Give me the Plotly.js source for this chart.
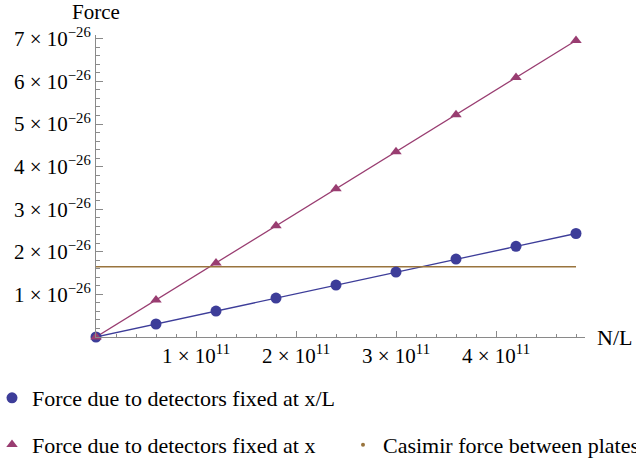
<!DOCTYPE html>
<html>
<head>
<meta charset="utf-8">
<script src="https://cdn.plot.ly/plotly-3.0.1.min.js"></script>
<style>html,body{margin:0;padding:0;background:#fff;}#chart{width:636px;height:461px;}</style>
</head>
<body>
<div id="chart"></div>
<script>
// ---- data ----
const nOverL = [0, 0.6e11, 1.2e11, 1.8e11, 2.4e11, 3.0e11, 3.6e11, 4.2e11, 4.8e11];
const forceXoverL = [0, 0.305e-26, 0.61e-26, 0.915e-26, 1.22e-26, 1.525e-26, 1.83e-26, 2.13e-26, 2.43e-26];
const forceX = [0, 0.87e-26, 1.74e-26, 2.61e-26, 3.48e-26, 4.35e-26, 5.22e-26, 6.09e-26, 6.96e-26];
const casimirN = [0, 4.8e11];
const casimirF = [1.65e-26, 1.65e-26];

const xTickVals = [1e11, 2e11, 3e11, 4e11];
const xTickText = ['1 × 10<sup>11</sup>', '2 × 10<sup>11</sup>', '3 × 10<sup>11</sup>', '4 × 10<sup>11</sup>'];
const yTickVals = [1e-26, 2e-26, 3e-26, 4e-26, 5e-26, 6e-26, 7e-26];
const yTickText = ['1', '2', '3', '4', '5', '6', '7'].map(d => d + ' × 10<sup>\u221226</sup>');

const names = ['Force due to detectors fixed at x/L', 'Force due to detectors fixed at x', 'Casimir force between plates'];
const colors = ['#3d3d99', '#993d71', '#99743d'];

const FONT = 'Liberation Serif, Times New Roman, serif';
const axisGray = '#8a8a8a';

const traces = [
  // connecting lines
  {x: nOverL, y: forceXoverL, mode: 'lines', showlegend: false, cliponaxis: false,
   line: {color: colors[0], width: 1.3}},
  {x: nOverL, y: forceX, mode: 'lines', showlegend: false, cliponaxis: false,
   line: {color: colors[1], width: 1.3}},
  {x: casimirN, y: casimirF, name: names[2], mode: 'lines', showlegend: false, cliponaxis: false,
   line: {color: colors[2], width: 1.5}},
  // markers (shown in legend)
  {x: nOverL, y: forceXoverL, name: names[0], mode: 'markers', cliponaxis: false,
   marker: {color: colors[0], size: 11, symbol: 'circle'}, legend: 'legend', legendgroup: 'a'},
  {x: nOverL, y: forceX, name: names[1], mode: 'markers', cliponaxis: false,
   marker: {color: colors[1], size: 10, symbol: 'triangle-up'}, legend: 'legend', legendgroup: 'b'},
  // legend proxy for the Casimir line (Mathematica shows a dot)
  {x: [null], y: [null], name: names[2], mode: 'markers',
   marker: {color: colors[2], size: 4}, legend: 'legend2'}
];

const W = 636, H = 461, ML = 96, MR = 51, MT = 35, MB = 124;
const PW = W - ML - MR, PH = H - MT - MB;
const px2x = p => (p - ML) / PW;
const py2y = p => (H - MB - p) / PH;

const layout = {
  width: W, height: H,
  margin: {l: ML, r: MR, t: MT, b: MB, autoexpand: false},
  paper_bgcolor: '#fff', plot_bgcolor: '#fff',
  font: {family: FONT, size: 21, color: '#000'},
  xaxis: {
    range: [0, 4.89e11], showgrid: false, zeroline: false,
    showline: true, linecolor: axisGray, linewidth: 1,
    tickmode: 'array', tickvals: xTickVals, ticktext: xTickText, tickangle: 0,
    ticks: 'inside', ticklen: 6, tickcolor: axisGray, tickwidth: 1,
    tickfont: {family: FONT, size: 21, color: '#000'},
    minor: {tickmode: 'linear', tick0: 0, dtick: 0.2e11, ticks: 'inside', ticklen: 3, tickcolor: axisGray, showgrid: false}
  },
  yaxis: {
    range: [0, 7.09e-26], showgrid: false, zeroline: false,
    showline: true, linecolor: axisGray, linewidth: 1,
    tickmode: 'array', tickvals: yTickVals, ticktext: yTickText,
    ticks: 'inside', ticklen: 7, tickcolor: axisGray, tickwidth: 1,
    tickfont: {family: FONT, size: 21, color: '#000'},
    minor: {tickmode: 'linear', tick0: 0, dtick: 0.2e-26, ticks: 'inside', ticklen: 4, tickcolor: axisGray, showgrid: false}
  },
  showlegend: true,
  legend: {
    xref: 'paper', yref: 'paper', x: px2x(0), y: py2y(377),
    xanchor: 'left', yanchor: 'top', orientation: 'v',
    traceorder: 'grouped', tracegroupgap: 15, indentation: -8,
    font: {family: FONT, size: 22, color: '#000'}, bgcolor: 'rgba(0,0,0,0)', borderwidth: 0
  },
  legend2: {
    xref: 'paper', yref: 'paper', x: px2x(351), y: py2y(424),
    xanchor: 'left', yanchor: 'top', orientation: 'v', indentation: -8,
    font: {family: FONT, size: 22, color: '#000'}, bgcolor: 'rgba(0,0,0,0)', borderwidth: 0
  },
  annotations: [
    {text: 'Force', xref: 'paper', yref: 'paper', x: 0, y: 1, xanchor: 'center', yanchor: 'bottom',
     yshift: 9, showarrow: false, font: {family: FONT, size: 21, color: '#000'}},
    {text: 'N/L', xref: 'paper', yref: 'paper', x: 1, y: 0, xanchor: 'left', yanchor: 'middle',
     xshift: 10, showarrow: false, font: {family: FONT, size: 22, color: '#000'}}
  ]
};

Plotly.newPlot('chart', traces, layout, {displayModeBar: false, staticPlot: true});
</script>
</body>
</html>
